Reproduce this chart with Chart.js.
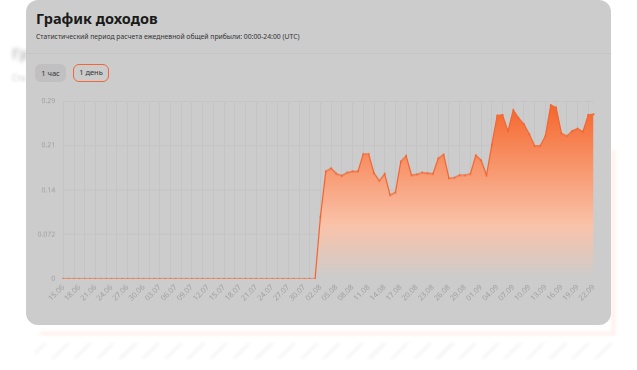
<!DOCTYPE html>
<html>
<head>
<meta charset="utf-8">
<script src="https://cdn.jsdelivr.net/npm/chart.js@4.4.0/dist/chart.umd.min.js"></script>
<style>
    body { margin: 0; width: 637px; height: 370px; background: #fff; position: relative; overflow: hidden; font-family: "Noto Sans", sans-serif; }
    .bg-title { position: absolute; left: 12px; top: 44px; font-size: 14px; font-weight: bold; color: #bbb; filter: blur(2px); }
    .bg-sub { position: absolute; left: 12px; top: 72px; font-size: 8px; color: #ccc; filter: blur(1.5px); }
    .bg-box { position: absolute; left: 40px; top: 150px; width: 572px; height: 182px; border-right: 3px solid rgba(255, 110, 70, 0.12); border-bottom: 3px solid rgba(255, 110, 70, 0.12); filter: blur(1.5px); }
    .bg-ticks { position: absolute; left: 35px; top: 343px; width: 580px; height: 16px; filter: blur(1.5px);
        background: repeating-linear-gradient(135deg, transparent 0 6px, rgba(0,0,0,0.04) 6px 9px, transparent 9px 16px); }
    .card { position: absolute; left: 26px; top: 0; width: 585px; height: 325px; background: #cccccc; border-radius: 12px; }
    .title { position: absolute; left: 10px; top: 8px; font-size: 14.5px; font-weight: bold; color: #1a1a1a; }
    .sub { position: absolute; left: 10px; top: 32px; font-size: 6.8px; color: #333; }
    .sep { position: absolute; left: 0; right: 0; top: 53px; height: 1px; background: #c4c4c4; }
    .btn { position: absolute; top: 64px; height: 18px; line-height: 18px; font-size: 7.5px; color: #333; text-align: center; border-radius: 6px; box-sizing: border-box; }
    .b1 { left: 9px; width: 31px; background: #c0c0c0; }
    .b2 { left: 47px; width: 36px; border: 1.3px solid #f0683a; line-height: 15.4px; }
    #wrap { position: absolute; left: 20px; top: 89.3px; width: 584px; height: 230.7px; }
</style>
</head>
<body>
<div class="bg-title">Гр</div>
<div class="bg-sub">Ста</div>
<div class="bg-box"></div>
<div class="bg-ticks"></div>
<div class="card">
    <div class="title">График доходов</div>
    <div class="sub">Статистический период расчета ежедневной общей прибыли: 00:00-24:00 (UTC)</div>
    <div class="sep"></div>
    <div class="btn b1">1 час</div>
    <div class="btn b2">1 день</div>
</div>
<div id="wrap"><canvas id="grafik"></canvas></div>
<script>
// Даты: с 15.06 по 22.09, каждый день
const dates = [];
const start = new Date(2024, 5, 15);
for (let i = 0; i < 100; i++) {
    const d = new Date(start.getTime() + i * 86400000);
    dates.push(String(d.getDate()).padStart(2, '0') + '.' + String(d.getMonth() + 1).padStart(2, '0'));
}

// Доход за день (48 дней нулей, потом значения)
const zeros = new Array(48).fill(0);
const income = zeros.concat([
    0.100, 0.173, 0.178, 0.169, 0.166, 0.171, 0.173, 0.173, 0.201, 0.201,
    0.170, 0.158, 0.169, 0.135, 0.139, 0.189, 0.198, 0.167, 0.168, 0.171,
    0.170, 0.169, 0.194, 0.200, 0.162, 0.163, 0.167, 0.167, 0.169, 0.199,
    0.191, 0.167, 0.216, 0.263, 0.264, 0.238, 0.272, 0.259, 0.249, 0.233,
    0.214, 0.214, 0.230, 0.280, 0.276, 0.234, 0.230, 0.238, 0.242, 0.237,
    0.264, 0.265
]);

const yTicks = [0, 0.0715, 0.143, 0.2145, 0.286];
const yLabels = ['0', '0.072', '0.14', '0.21', '0.29'];

const ctx = document.getElementById('grafik').getContext('2d');
new Chart(ctx, {
    type: 'line',
    data: {
        labels: dates,
        datasets: [{
            data: income,
            borderColor: '#f26530',
            borderWidth: 1.2,
            pointRadius: 1,
            pointBackgroundColor: '#f26530',
            pointBorderWidth: 0,
            tension: 0,
            fill: true,
            backgroundColor: function (context) {
                const area = context.chart.chartArea;
                if (!area) return 'rgba(245,115,60,0.6)';
                const g = context.chart.ctx.createLinearGradient(0, area.top, 0, area.bottom);
                g.addColorStop(0, 'rgba(245,100,40,1)');
                g.addColorStop(0.7, 'rgba(250,195,170,1)');
                g.addColorStop(1, 'rgba(204,204,204,1)');
                return g;
            }
        }]
    },
    options: {
        responsive: true,
        maintainAspectRatio: false,
        animation: false,
        layout: { padding: { top: 0, right: 0 } },
        plugins: { legend: { display: false }, tooltip: { enabled: false } },
        scales: {
            x: {
                grid: {
                    color: c => (c.index % 2 === 0 ? '#c5c5c5' : 'rgba(0,0,0,0)'),
                    drawTicks: false
                },
                border: { display: false },
                ticks: {
                    autoSkip: false,
                    minRotation: 45,
                    maxRotation: 45,
                    padding: 4,
                    color: '#a0a0a0',
                    font: { size: 7.5, family: 'Noto Sans' },
                    callback: function (v, i) { return i % 3 === 0 ? dates[i] : ''; }
                },
                afterFit: s => { s.height = 41.7; }
            },
            y: {
                min: 0,
                max: 0.286,
                afterBuildTicks: s => { s.ticks = yTicks.map(v => ({ value: v })); },
                grid: { color: '#c5c5c5', drawTicks: false },
                border: { display: false },
                ticks: {
                    padding: 8,
                    color: '#a0a0a0',
                    font: { size: 7, family: 'Noto Sans' },
                    callback: (v, i) => yLabels[i]
                },
                afterFit: s => { s.width = 43.3; }
            }
        }
    }
});
</script>
</body>
</html>
